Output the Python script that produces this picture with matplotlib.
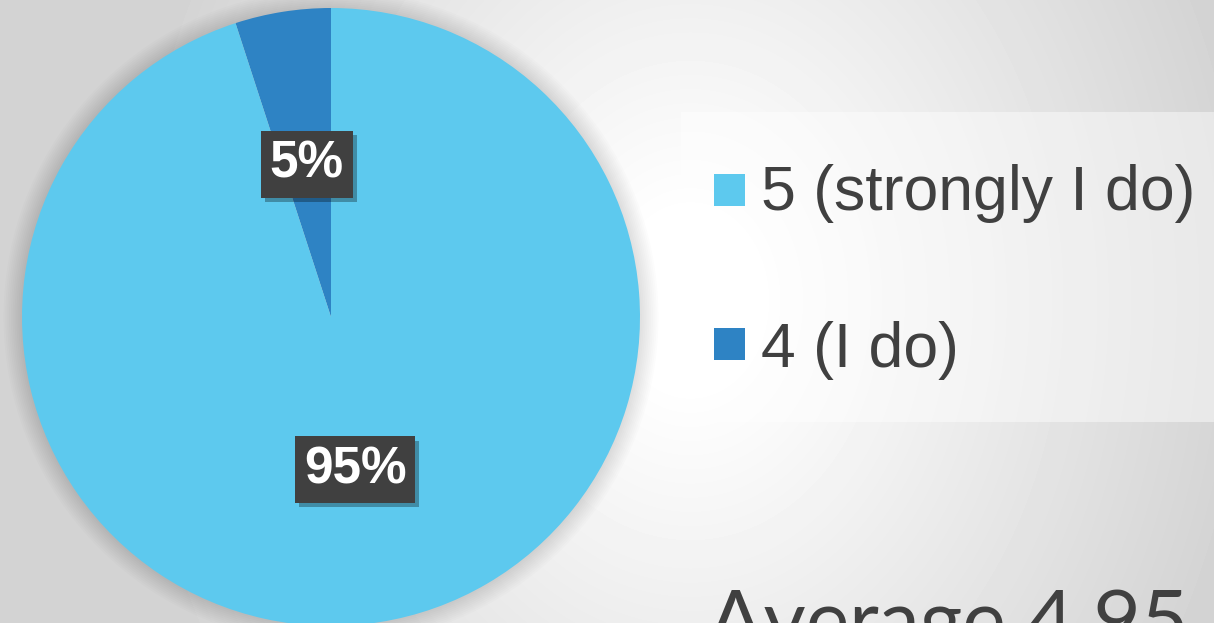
import numpy as np
import matplotlib.pyplot as plt
from matplotlib import patheffects
from matplotlib.patches import Rectangle, Circle

labels = ["5 (strongly I do)", "4 (I do)"]
shares = [95, 5]
colors = ["#5DC9EE", "#2E83C4"]
average = 4.95

W, H = 1214, 623
TXT = "#404040"

def fx(x):
    return x / W

def fy(y):
    return 1 - y / H

fig = plt.figure(figsize=(W / 100, H / 100), dpi=100)

# soft grey radial background, white toward the middle
bg = fig.add_axes([0, 0, 1, 1])
bg.axis("off")
yy, xx = np.mgrid[0:H, 0:W]
d = np.sqrt(((xx - 690) / 560.0) ** 2 + ((yy - 300) / 700.0) ** 2)
shade = 1 - 0.17 * np.clip((d - 0.12) / 0.88, 0, 1)
bg.imshow(shade, cmap="gray", vmin=0, vmax=1, aspect="auto", interpolation="bilinear")

# pie, 618 px across, centred at (331, 317)
ax = fig.add_axes([fx(22), fy(626), 618 / W, 618 / H])
ax.patch.set_alpha(0)
for i in range(10):
    ax.add_patch(Circle((0, 0), 1 + 0.006 * (i + 1), color="black", alpha=0.012,
                        lw=0, clip_on=False, zorder=0))
wedges, texts, autotexts = ax.pie(shares[::-1], colors=colors[::-1], startangle=90,
                                  counterclock=True, autopct="%1.0f%%", pctdistance=0.5,
                                  wedgeprops=dict(linewidth=0),
                                  textprops=dict(color="white", fontsize=37, fontweight="bold",
                                                 family="Liberation Sans"))
ax.set_xlim(-1, 1)
ax.set_ylim(-1, 1)
ax.set_aspect("equal")
for t in autotexts:
    t.set_bbox(dict(boxstyle="square,pad=0.17", fc="#404040", ec="none"))
    t.get_bbox_patch().set_path_effects([
        patheffects.SimplePatchShadow(offset=(3, -3), shadow_rgbFace="black", alpha=0.3),
        patheffects.Normal()])

# legend panel
fig.patches.append(Rectangle((fx(681), fy(422)), fx(1214) - fx(681), fy(112) - fy(422),
                             transform=fig.transFigure, fc="white", alpha=0.45, lw=0))
marker_tops = [174, 328]
baselines = [210, 367]
for lab, col, top, base in zip(labels, colors, marker_tops, baselines):
    fig.patches.append(Rectangle((fx(714), fy(top + 32)), 31 / W, 32 / H,
                                 transform=fig.transFigure, fc=col, lw=0))
    fig.text(fx(761), fy(base), lab, fontsize=45, color=TXT, family="Liberation Sans",
             va="baseline", ha="left")

fig.text(fx(708), fy(648), "Average %.2f" % average, fontsize=59, color=TXT,
         family="Lato", va="baseline", ha="left")

fig.savefig("out.png", dpi=100)
